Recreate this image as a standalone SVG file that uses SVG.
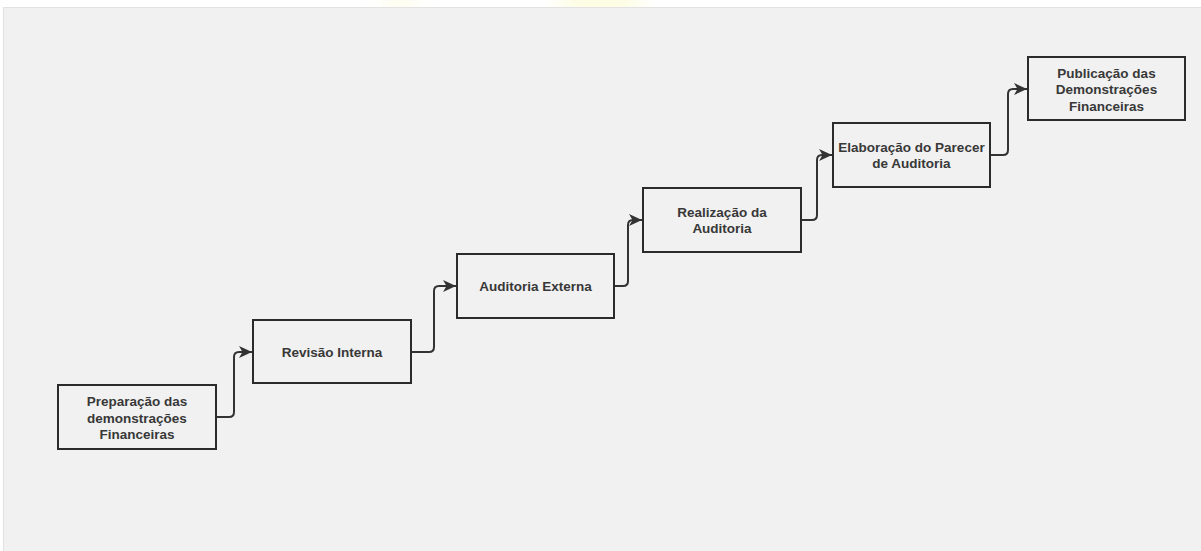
<svg xmlns="http://www.w3.org/2000/svg" width="1201" height="551" viewBox="0 0 1201 551">
<defs>
<style>
.box{fill:none;stroke:#2b2b2b;stroke-width:2}
.lbl{font-family:"Liberation Sans",Arial,Helvetica,sans-serif;font-size:13.5px;font-weight:bold;fill:#383838;text-anchor:middle}
.edge{fill:none;stroke:#333;stroke-width:2}
</style>
<marker id="arr" markerWidth="14" markerHeight="12" refX="13" refY="6" orient="auto" markerUnits="userSpaceOnUse">
<path d="M0,0 L13,6 L0,12 L3.5,6 Z" fill="#333"/>
</marker>
<filter id="blur" x="-50%" y="-50%" width="200%" height="200%"><feGaussianBlur stdDeviation="8"/></filter>
<clipPath id="top"><rect x="0" y="0" width="1201" height="7"/></clipPath>
</defs>
<rect x="0" y="0" width="1201" height="551" fill="#ffffff"/>
<g clip-path="url(#top)">
<ellipse cx="600" cy="2" rx="45" ry="8" fill="#fcfcd6" filter="url(#blur)"/>
<ellipse cx="400" cy="2" rx="18" ry="6" fill="#fcfce2" filter="url(#blur)"/>
</g>
<rect x="3" y="7" width="1198" height="544" fill="#f1f1f1"/>
<path d="M3.5,551 V7.5 H1201" fill="none" stroke="#e2e2e2" stroke-width="1"/>

<g id="connectors">
<path class="edge" marker-end="url(#arr)" d="M216,417 H229 Q234,417 234,412 V357 Q234,352 239,352 H252"/>
<path class="edge" marker-end="url(#arr)" d="M411,352 H429 Q434,352 434,347 V291 Q434,286 439,286 H456"/>
<path class="edge" marker-end="url(#arr)" d="M614,286 H623 Q628,286 628,281 V225 Q628,220 633,220 H642"/>
<path class="edge" marker-end="url(#arr)" d="M801,220 H812 Q817,220 817,215 V160 Q817,155 822,155 H832"/>
<path class="edge" marker-end="url(#arr)" d="M990,155 H1003 Q1008,155 1008,150 V94 Q1008,89 1013,89 H1027"/>
</g>

<g id="n1">
<rect class="box" x="58" y="385" width="158" height="64"/>
<text class="lbl" x="137" y="406">Preparação das</text>
<text class="lbl" x="137" y="422.5">demonstrações</text>
<text class="lbl" x="137" y="439">Financeiras</text>
</g>
<g id="n2">
<rect class="box" x="253" y="320" width="158" height="63"/>
<text class="lbl" x="332" y="356.5">Revisão Interna</text>
</g>
<g id="n3">
<rect class="box" x="457" y="254" width="157" height="64"/>
<text class="lbl" x="535.5" y="291">Auditoria Externa</text>
</g>
<g id="n4">
<rect class="box" x="643" y="188" width="158" height="64"/>
<text class="lbl" x="722" y="216.5">Realização da</text>
<text class="lbl" x="722" y="232.5">Auditoria</text>
</g>
<g id="n5">
<rect class="box" x="833" y="123" width="157" height="64"/>
<text class="lbl" x="911.5" y="151.5">Elaboração do Parecer</text>
<text class="lbl" x="911.5" y="167.5">de Auditoria</text>
</g>
<g id="n6">
<rect class="box" x="1028" y="57" width="157" height="63"/>
<text class="lbl" x="1106.5" y="77.5">Publicação das</text>
<text class="lbl" x="1106.5" y="94">Demonstrações</text>
<text class="lbl" x="1106.5" y="110.5">Financeiras</text>
</g>
</svg>
